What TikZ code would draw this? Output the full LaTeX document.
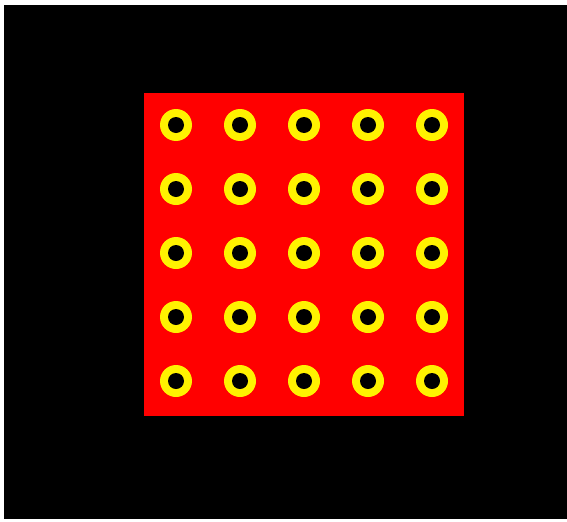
\documentclass[tikz,border=0pt]{standalone}
\usepackage{tikz}
\usetikzlibrary{positioning}

\begin{document}
\begin{tikzpicture}[
    x=0.02cm, y=-0.02cm,
    backdrop/.style={draw=none, fill=black},
    plate/.style={draw=none, fill=red},
    ring/.style={circle, draw=none, fill=yellow, minimum size=0.64cm, inner sep=0pt},
    hole/.style={circle, draw=none, fill=black, minimum size=0.32cm, inner sep=0pt}
]

%% -- frame --
\fill[white] (0,0) rectangle (567,521);
\useasboundingbox (0,0) rectangle (567,521);
\fill[backdrop] (4,5) rectangle (567,519);

%% -- red plate --
\fill[plate] (144,93) rectangle (464,416);

%% -- 5x5 grid of rings --
\foreach \i in {1,...,5} {
  \foreach \j in {1,...,5} {
    \node[ring] (ring-\i-\j) at ({112+64*\i},{61+64*\j}) {};
    \node[hole] (hole-\i-\j) at (ring-\i-\j) {};
  }
}

\end{tikzpicture}
\end{document}
